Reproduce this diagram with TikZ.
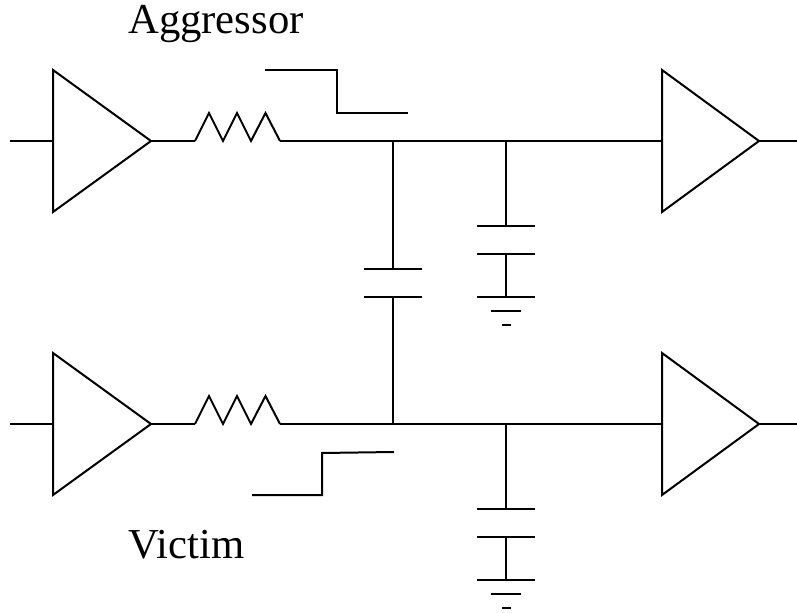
\documentclass[tikz,border=0pt]{standalone}
\usepackage{fontspec}
\setmainfont{Liberation Serif}
\tikzset{
    wire/.style={line width=1.5pt, line join=miter},
    label/.style={anchor=base west, inner sep=0pt, font=\fontsize{32}{36}\selectfont},
}
\begin{document}
\begin{tikzpicture}[x=0.75pt, y=-0.75pt]
        \useasboundingbox (0,0) rectangle (797,613);
        % Aggressor line
        \coordinate (ainL) at (10,141);
        \coordinate (adrvT) at (53,70);
        \coordinate (adrvB) at (53,212);
        \coordinate (adrvI) at (53,141);
        \coordinate (adrvO) at (151,141);
        \coordinate (arL) at (195,141);
        \coordinate (arR) at (280,141);
        \coordinate (atapC) at (393,141);
        \coordinate (atapG) at (506,141);
        \coordinate (arcvT) at (662,70);
        \coordinate (arcvB) at (662,212);
        \coordinate (arcvI) at (662,141);
        \coordinate (arcvO) at (759,141);
        \coordinate (aoutR) at (797,141);
        \draw [wire] (ainL) -- (adrvI);
        \draw [wire] (adrvT) -- (adrvO) -- (adrvB) -- cycle;
        \draw [wire] (adrvO) -- (arL);
        \draw [wire] (arL) -- ++(14,-28) -- ++(14,28) -- ++(14,-28) -- ++(14,28) -- ++(14.5,-28) -- (arR);
        \draw [wire] (arR) -- (arcvI);
        \draw [wire] (arcvT) -- (arcvO) -- (arcvB) -- cycle;
        \draw [wire] (arcvO) -- (aoutR);
        % Victim line
        \coordinate (vinL) at (10,424);
        \coordinate (vdrvT) at (53,353);
        \coordinate (vdrvB) at (53,495);
        \coordinate (vdrvI) at (53,424);
        \coordinate (vdrvO) at (151,424);
        \coordinate (vrL) at (195,424);
        \coordinate (vrR) at (280,424);
        \coordinate (vtapC) at (393,424);
        \coordinate (vtapG) at (506,424);
        \coordinate (vrcvT) at (662,353);
        \coordinate (vrcvB) at (662,495);
        \coordinate (vrcvI) at (662,424);
        \coordinate (vrcvO) at (759,424);
        \coordinate (voutR) at (797,424);
        \draw [wire] (vinL) -- (vdrvI);
        \draw [wire] (vdrvT) -- (vdrvO) -- (vdrvB) -- cycle;
        \draw [wire] (vdrvO) -- (vrL);
        \draw [wire] (vrL) -- ++(14,-28) -- ++(14,28) -- ++(14,-28) -- ++(14,28) -- ++(14.5,-28) -- (vrR);
        \draw [wire] (vrR) -- (vrcvI);
        \draw [wire] (vrcvT) -- (vrcvO) -- (vrcvB) -- cycle;
        \draw [wire] (vrcvO) -- (voutR);
        % Coupling cap
        \coordinate (ccT) at (393,269);
        \coordinate (ccB) at (393,297);
        \draw [wire] (atapC) -- (ccT);
        \draw [wire] (364,269) -- (422,269);
        \draw [wire] (364,297) -- (422,297);
        \draw [wire] (ccB) -- (vtapC);
        % Aggressor load cap and ground
        \coordinate (agT) at (506,226);
        \coordinate (agB) at (506,254);
        \coordinate (agG) at (506,297);
        \draw [wire] (atapG) -- (agT);
        \draw [wire] (477,226) -- (535,226);
        \draw [wire] (477,254) -- (535,254);
        \draw [wire] (agB) -- (agG);
        \draw [wire] (477,297) -- (535,297);
        \draw [wire] (491,311) -- (521,311);
        \draw [wire] (502,325) -- (511,325);
        % Victim load cap and ground
        \coordinate (vgT) at (506,509);
        \coordinate (vgB) at (506,537);
        \coordinate (vgG) at (506,580);
        \draw [wire] (vtapG) -- (vgT);
        \draw [wire] (477,509) -- (535,509);
        \draw [wire] (477,537) -- (535,537);
        \draw [wire] (vgB) -- (vgG);
        \draw [wire] (477,580) -- (535,580);
        \draw [wire] (491,594) -- (521,594);
        \draw [wire] (502,608) -- (511,608);
        % Waveforms
        \draw [wire] (265,70) -- (337,70) -- (337,113) -- (408,113);
        \draw [wire] (252,495) -- (322,495) -- (322,453) -- (394,452);
        % Labels
        \node [label] (aggr) at (128,34) {Aggressor};
        \node [label] (vict) at (128,558) {Victim};
    \end{tikzpicture}
\end{document}
